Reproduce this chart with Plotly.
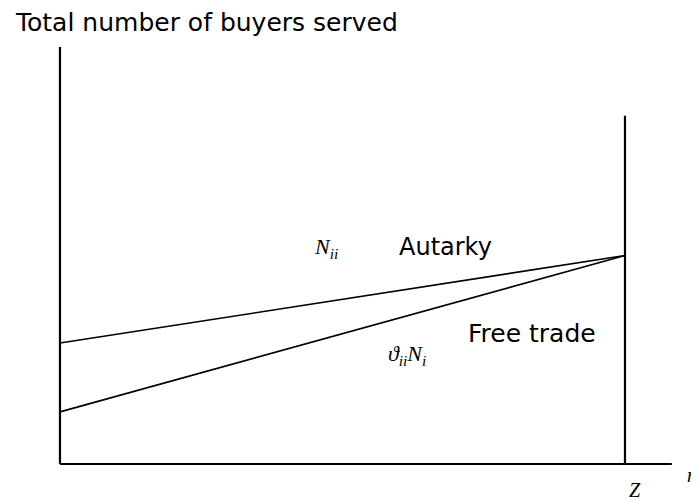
import plotly.graph_objects as go

# Data (x: 0 = origin, 1 = Z; y: relative number of buyers served)
x_points = [0, 1]
autarky = [0.290, 0.500]
free_trade = [0.125, 0.500]
z_line_top = 0.835
y_axis_top = 1.0
x_axis_end = 1.083

fig = go.Figure()

line_style = dict(color="black", width=1.6)
fig.add_trace(go.Scatter(x=x_points, y=autarky, mode="lines", line=line_style,
                         name="Autarky", showlegend=False, hoverinfo="skip"))
fig.add_trace(go.Scatter(x=x_points, y=free_trade, mode="lines", line=line_style,
                         name="Free trade", showlegend=False, hoverinfo="skip"))

# axes and Z line
axis_style = dict(color="black", width=2.2)
fig.add_shape(type="line", x0=0, y0=0, x1=0, y1=y_axis_top, line=axis_style)
fig.add_shape(type="line", x0=0, y0=0, x1=x_axis_end, y1=0, line=axis_style)
fig.add_shape(type="line", x0=x_points[1], y0=0, x1=x_points[1], y1=z_line_top, line=axis_style)

sans = "DejaVu Sans"
serif = "Liberation Serif"
ann = [
    dict(x=-0.083, y=1.058, text="Total number of buyers served", xanchor="left",
         font=dict(family=sans, size=25, color="black")),
    dict(x=0.683, y=0.520, text="Autarky", font=dict(family=sans, size=24, color="black")),
    dict(x=0.835, y=0.314, text="Free trade", font=dict(family=sans, size=25, color="black")),
    dict(x=0.471, y=0.518, text="<i>N</i><sub><i>ii</i></sub>",
         font=dict(family=serif, size=22, color="black")),
    dict(x=0.614, y=0.261, text="<i>ϑ</i><sub><i>ii</i></sub><i>N</i><sub><i>i</i></sub>",
         font=dict(family=serif, size=22, color="black")),
    dict(x=1.018, y=-0.062, text="<i>Z</i>", font=dict(family=serif, size=20, color="black")),
    dict(x=1.131, y=-0.026, text="<i>n</i>", xanchor="right",
         font=dict(family=serif, size=20, color="black")),
]
for a in ann:
    a.setdefault("xanchor", "center")
    a["yanchor"] = "middle"
    a["showarrow"] = False
    fig.add_annotation(**a)

fig.update_layout(
    width=691, height=493,
    margin=dict(l=0, r=0, t=0, b=0),
    paper_bgcolor="white", plot_bgcolor="white",
    xaxis=dict(range=[-0.0920, 1.1310], visible=False, fixedrange=True),
    yaxis=dict(range=[-0.0887, 1.0935], visible=False, fixedrange=True),
    showlegend=False,
)

fig.write_html("out.html")
